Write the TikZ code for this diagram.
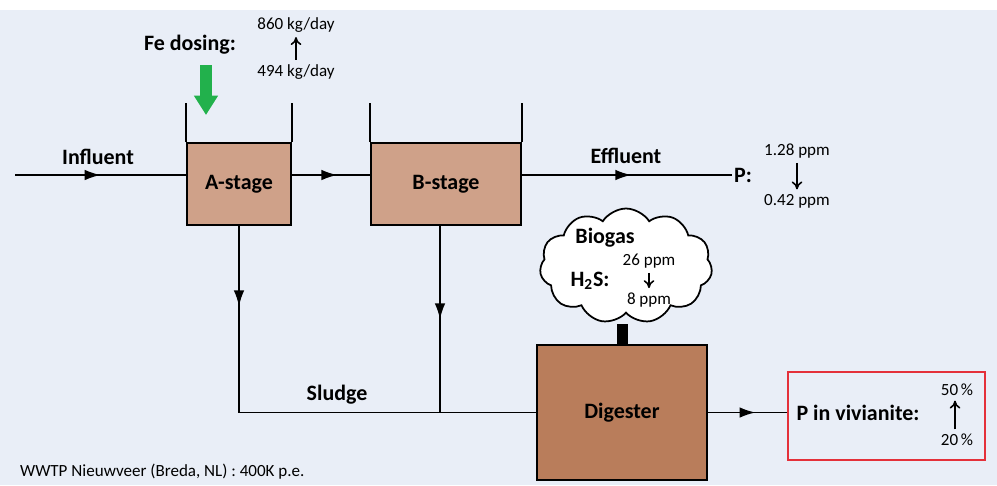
\documentclass[tikz,border=0pt]{standalone}
\usepackage{fontspec}
\setmainfont{Carlito}
\usepackage{tikz}
\usetikzlibrary{arrows.meta,shapes.symbols,positioning,calc,decorations.markings}

\definecolor{bgblue}{RGB}{233,238,247}
\definecolor{tankfill}{RGB}{207,161,137}
\definecolor{digfill}{RGB}{185,125,91}
\definecolor{dosegreen}{RGB}{34,177,76}
\definecolor{boxred}{RGB}{228,48,58}

\tikzset{
    tank/.style={draw, line width=1.1pt, fill=tankfill, minimum height=1.64cm, font=\bfseries\fontsize{12.5}{14}\selectfont},
    lbl/.style={font=\bfseries\fontsize{12.5}{14}\selectfont, inner sep=1pt},
    val/.style={font=\fontsize{9.7}{11}\selectfont, inner sep=1pt},
    change/.style={line width=0.9pt, -{To[length=4.5pt,width=6pt]}, shorten <=1.5pt, shorten >=1.5pt},
    flow/.style={line width=0.9pt},
    midarrow/.style={flow, postaction={decorate}, decoration={markings, mark=at position #1 with {\arrow{Latex[length=9pt,width=6pt]}}}},
}

\begin{document}
\begin{tikzpicture}[x=0.02cm,y=-0.02cm]
    \useasboundingbox (0,0) rectangle (997,485);
    \fill[bgblue] (0,10) rectangle (997,485);

    % tanks and digester
    \node[tank, minimum width=2.08cm] (astage) at (239,184) {A-stage};
    \node[tank, minimum width=3.0cm] (bstage) at (446,184) {B-stage};
    \node[tank, fill=digfill, minimum width=3.4cm, minimum height=2.7cm] (digester) at (622,412.5) {Digester};
    \draw[line width=1.1pt] (astage.north west) -- ++(0,-39) (astage.north east) -- ++(0,-39);   % walls of A tank
    \draw[line width=1.1pt] (bstage.north west) -- ++(0,-39) (bstage.north east) -- ++(0,-39);   % walls of B tank

    % biogas cloud on its pipe
    \node[cloud, draw, fill=white, line width=1pt, cloud puffs=11, cloud puff arc=115, aspect=1.5, minimum width=3.45cm, minimum height=2.3cm] (biogas) at (626,266) {};
    \fill (617,324) rectangle (628,345);                                                          % pipe to digester
    \node[lbl] (gaslbl) at (605,238) {Biogas};
    \node[lbl] (hts) at (590,281) {H\textsubscript{2}S:};
    \node[val] (hthigh) at (649,261) {26 ppm};
    \node[val] (htlow) at (649,300) {8 ppm};
    \draw[change] (hthigh) -- (htlow);

    % Fe dosing
    \node[lbl] (fedose) at (190,45) {Fe dosing:};
    \node[val] (fehigh) at (296,25) {860 kg/day};
    \node[val] (felow) at (296,72) {494 kg/day};
    \draw[change] (felow) -- (fehigh);
    \coordinate (fetop) at (206,65);
    \draw[dosegreen, line width=7pt, -{Triangle[length=11pt,width=13pt]}] (fetop) -- ++(0,50);     % green dosing arrow

    % water line
    \coordinate (in) at (15,175);
    \node[lbl] (pout) at (743,175) {P:};
    \node[val] (phigh) at (797,151) {1.28 ppm};
    \node[val] (plow) at (797,201) {0.42 ppm};
    \draw[change] (phigh) -- (plow);
    \draw[midarrow=0.5] (in) -- (in -| astage.west);                     % influent
    \draw[midarrow=0.58] (in -| astage.east) -- (in -| bstage.west);     % A to B
    \draw[midarrow=0.52] (in -| bstage.east) -- (pout.west);             % effluent
    \node[lbl] (inlbl) at (98,157) {Influent};
    \node[lbl] (efflbl) at (626,156) {Effluent};

    % sludge lines
    \coordinate (bout) at ([xshift=-0.12cm]bstage.south);
    \draw[midarrow=0.43] (astage.south) -- (astage.south |- digester.west);
    \draw[flow] (astage.south |- digester.west) -- (digester.west);
    \draw[midarrow=0.5] (bout) -- (bout |- digester.west);
    \node[lbl] (sludge) at (337,395) {Sludge};

    % vivianite
    \node[draw=boxred, line width=1.1pt, minimum width=3.94cm, minimum height=1.76cm] (pbox) at (886.5,416) {};
    \draw[midarrow=0.6] (digester.east) -- (digester.east -| pbox.west);
    \node[lbl] (viv) at (858,413) {P in vivianite:};
    \node[val] (vhigh) at (957,390) {50\,\%};
    \node[val] (vlow) at (957,440) {20\,\%};
    \draw[change] ([xshift=-0.04cm]vlow.north) -- ([xshift=-0.04cm]vhigh.south);

    \node[val, anchor=west] (plant) at (18,472) {WWTP Nieuwveer (Breda, NL) : 400K p.e.};
\end{tikzpicture}
\end{document}
